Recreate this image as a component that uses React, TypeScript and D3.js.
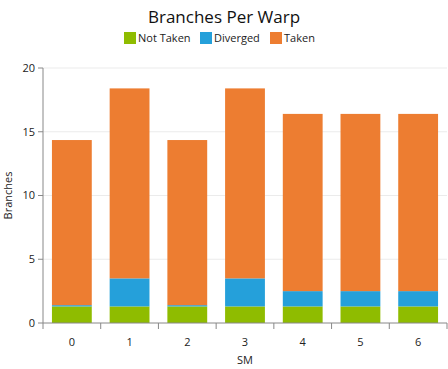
import React from 'react';
import * as d3 from 'd3';

const categories = ['0', '1', '2', '3', '4', '5', '6'];
const notTaken = [1.3, 1.3, 1.3, 1.3, 1.3, 1.3, 1.3];
const diverged = [0.1, 2.2, 0.1, 2.2, 1.2, 1.2, 1.2];
const taken = [12.95, 14.9, 12.95, 14.9, 13.9, 13.9, 13.9];
const seriesNames = ['Not Taken', 'Diverged', 'Taken'];
const colors = ['#8fbc00', '#25a0da', '#ed7d31'];
const yTicks = [0, 5, 10, 15, 20];

const width = 448;
const height = 369;
const margin = { top: 68, right: 1, bottom: 46, left: 43 };
const font = '"Open Sans", "DejaVu Sans", sans-serif';

const App: React.FC = () => {
    const innerW = width - margin.left - margin.right;
    const innerH = height - margin.top - margin.bottom;

    const x = d3.scaleBand<string>()
        .domain(categories)
        .range([0, innerW])
        .paddingInner(0.31)
        .paddingOuter(0.155);

    const y = d3.scaleLinear().domain([0, 20]).range([innerH, 0]);

    const rows = categories.map((c, i) => ({
        cat: c,
        'Not Taken': notTaken[i],
        Diverged: diverged[i],
        Taken: taken[i],
    }));
    const stacked = d3.stack<any>().keys(seriesNames)(rows);

    // band ticks sit at band edges
    const step = x.step();
    const edges = d3.range(categories.length + 1).map(i => i * step);

    const legendX = [124, 200, 270];

    return (
        <svg width={width} height={height} style={{ display: 'block', position: 'absolute', left: 0, top: 0 }}>
            <rect width={width} height={height} fill="#fff" />
            <text x={224} y={23} textAnchor="middle" fontFamily={font} fontSize={17} fill="#111">
                Branches Per Warp
            </text>
            {seriesNames.map((s, i) => (
                <g key={s} transform={`translate(${legendX[i]},32)`}>
                    <rect width={12} height={12} fill={colors[i]} />
                    <text x={14} y={10} fontFamily={font} fontSize={11} fill="#222">{s}</text>
                </g>
            ))}

            <g transform={`translate(${margin.left},${margin.top})`}>
                {yTicks.filter(t => t > 0).map(t => (
                    <line key={t} x1={0} x2={innerW} y1={y(t)} y2={y(t)} stroke="#ebebeb" strokeWidth={1} />
                ))}

                {stacked.map((layer, si) => (
                    <g key={layer.key} fill={colors[si]}>
                        {layer.map((d, i) => (
                            <rect
                                key={i}
                                x={x(categories[i])}
                                y={y(d[1])}
                                width={x.bandwidth()}
                                height={y(d[0]) - y(d[1])}
                            />
                        ))}
                    </g>
                ))}

                <line x1={0} x2={0} y1={0} y2={innerH} stroke="#888" />
                <line x1={0} x2={innerW} y1={innerH} y2={innerH} stroke="#888" />
                {yTicks.map(t => (
                    <g key={t} transform={`translate(0,${y(t)})`}>
                        <line x1={-5} x2={0} stroke="#888" />
                        <text x={-8} dy="0.35em" textAnchor="end" fontFamily={font} fontSize={11} fill="#222">{t}</text>
                    </g>
                ))}
                {edges.map((e, i) => (
                    <line key={i} x1={e} x2={e} y1={innerH} y2={innerH + 6} stroke="#888" />
                ))}
                {categories.map(c => (
                    <text key={c} x={(x(c) as number) + x.bandwidth() / 2} y={innerH + 23}
                        textAnchor="middle" fontFamily={font} fontSize={11} fill="#222">{c}</text>
                ))}
                <text x={innerW / 2} y={innerH + 41} textAnchor="middle" fontFamily={font} fontSize={11} fill="#222">SM</text>
                <text transform={`translate(-31,${innerH / 2}) rotate(-90)`} textAnchor="middle"
                    fontFamily={font} fontSize={11} fill="#222">Branches</text>
            </g>
        </svg>
    );
};

export default App;
